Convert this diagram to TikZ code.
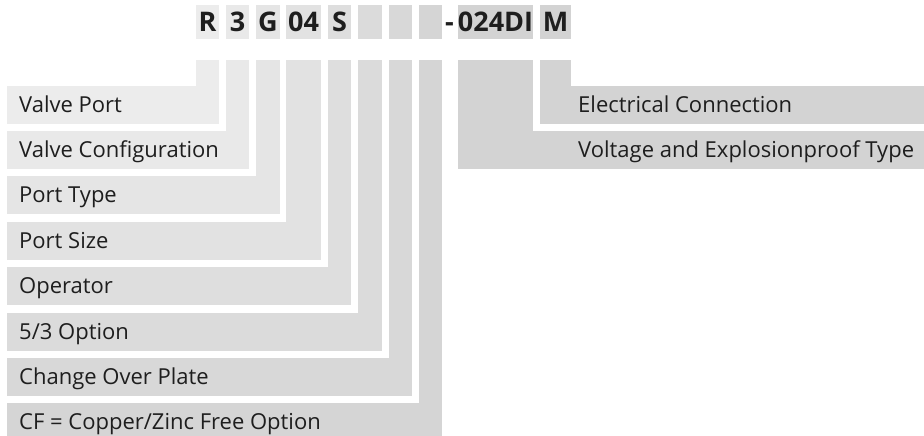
\documentclass[tikz,border=0pt]{standalone}
\usepackage{fontspec}
\setmainfont{Open Sans}
\definecolor{g1}{HTML}{ECECEC}
\definecolor{g2}{HTML}{E9E9E9}
\definecolor{g3}{HTML}{E5E5E5}
\definecolor{g4}{HTML}{E2E2E2}
\definecolor{g5}{HTML}{DEDEDE}
\definecolor{g6}{HTML}{DBDBDB}
\definecolor{g7}{HTML}{D8D8D8}
\definecolor{g8}{HTML}{D5D5D5}
\definecolor{g9}{HTML}{D3D3D3}
\definecolor{ink}{HTML}{1E1E1E}
\tikzset{
  codebox/.style={minimum height=34pt, inner sep=0pt, text=ink,
    font=\bfseries\fontsize{27}{27}\selectfont},
  rowbox/.style={anchor=north west, minimum height=38pt, inner sep=0pt},
  lbl/.style={anchor=base west, inner sep=0pt, text=ink,
    font=\fontsize{22}{22}\selectfont}
}
\begin{document}
\begin{tikzpicture}[x=1pt, y=-1pt]
  \useasboundingbox (0,0) rectangle (924,436);
  % ordering code
  \node[codebox, fill=g1, minimum width=23pt] (c1) at (207.5,22) {R};
  \node[codebox, fill=g2, minimum width=23pt] (c2) at (237.5,22) {3};
  \node[codebox, fill=g3, minimum width=24pt] (c3) at (268,22) {G};
  \node[codebox, fill=g4, minimum width=35pt] (c4) at (303.5,22) {04};
  \node[codebox, fill=g5, minimum width=23pt] (c5) at (339.5,22) {S};
  \node[codebox, fill=g6, minimum width=24pt] (c6) at (370,22) {};
  \node[codebox, fill=g7, minimum width=23pt] (c7) at (400.5,22) {};
  \node[codebox, fill=g8, minimum width=23pt] (c8) at (430.5,22) {};
  \node[codebox, fill=g9, minimum width=75pt] (c9) at (495.5,22) {024DI};
  \node[codebox, fill=g9, minimum width=31pt] (c10) at (555.5,22) {M};
  \node[codebox, minimum height=0pt, anchor=base] (d) at (449.5,31.6) {-};
  % rows
  \node[rowbox, fill=g1, minimum width=212pt] (r1) at (7,86) {};
  \node[rowbox, fill=g2, minimum width=242pt] (r2) at (7,131) {};
  \node[rowbox, fill=g3, minimum width=273pt] (r3) at (7,176) {};
  \node[rowbox, fill=g4, minimum width=314pt] (r4) at (7,222) {};
  \node[rowbox, fill=g5, minimum width=344pt] (r5) at (7,267) {};
  \node[rowbox, fill=g6, minimum width=375pt] (r6) at (7,313) {};
  \node[rowbox, fill=g7, minimum width=405pt] (r7) at (7,358) {};
  \node[rowbox, fill=g8, minimum width=435pt] (r8) at (7,403) {};
  \node[rowbox, fill=g9, minimum width=384pt] (r10) at (540,86) {};
  \node[rowbox, fill=g9, minimum width=466pt] (r9) at (458,131) {};
  % stems
  \fill[g1] (c1.west |- 0,60) rectangle (r1.north east);
  \fill[g2] (c2.west |- 0,60) rectangle (r2.north east);
  \fill[g3] (c3.west |- 0,60) rectangle (r3.north east);
  \fill[g4] (c4.west |- 0,60) rectangle (r4.north east);
  \fill[g5] (c5.west |- 0,60) rectangle (r5.north east);
  \fill[g6] (c6.west |- 0,60) rectangle (r6.north east);
  \fill[g7] (c7.west |- 0,60) rectangle (r7.north east);
  \fill[g8] (c8.west |- 0,60) rectangle (r8.north east);
  \fill[g9] (c9.west |- 0,60) rectangle (c9.east |- r9.north);
  \fill[g9] (c10.west |- 0,60) rectangle (c10.east |- r10.north);
  % labels
  \node[lbl] (t1) at (19,112.5) {Valve Port};
  \node[lbl] (t2) at (19,157.5) {Valve Configuration};
  \node[lbl] (t3) at (19,202.5) {Port Type};
  \node[lbl] (t4) at (19,248.5) {Port Size};
  \node[lbl] (t5) at (19,293.5) {Operator};
  \node[lbl] (t6) at (19,339.5) {5/3 Option};
  \node[lbl] (t7) at (19,384.5) {Change Over Plate};
  \node[lbl] (t8) at (19,429.5) {CF = Copper/Zinc Free Option};
  \node[lbl] (t10) at (578,112.5) {Electrical Connection};
  \node[lbl] (t9) at (578,157.5) {Voltage and Explosionproof Type};
\end{tikzpicture}
\end{document}
